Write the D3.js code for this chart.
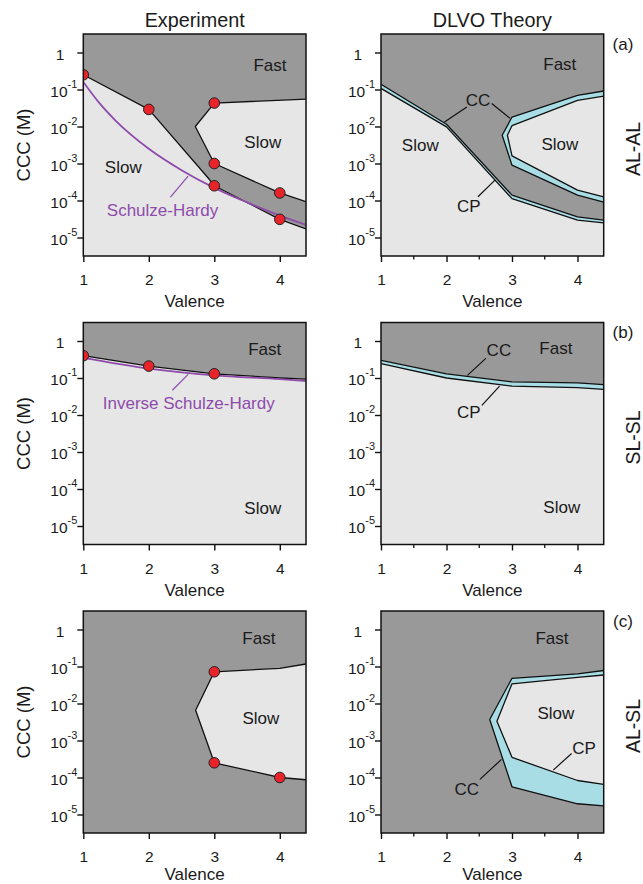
<!DOCTYPE html>
<html>
<head>
<meta charset="utf-8">
<script src="https://cdn.jsdelivr.net/npm/d3@7"></script>
<style>
  body { margin: 0; background: #fff; }
  text { font-family: "Liberation Sans", Arial, sans-serif; fill: #1a1a1a; }
</style>
</head>
<body>
<svg id="chart" width="643" height="884"></svg>
<script>
// ---- data (valence, CCC in M) ----
const valenceTicks = [1, 2, 3, 4];
const minorTicks = [1.5, 2.5, 3.5];
const cccTicks = [1, 1e-1, 1e-2, 1e-3, 1e-4, 1e-5];

// (a) AL-AL experiment
const expAPoints = [[1, 0.25], [2, 0.029], [3, 0.043], [3, 0.001], [3, 2.5e-4], [4, 1.6e-4], [4, 3.1e-5]];
const expALower = [[1, 0.25], [2, 0.029], [2.92, 3.8e-4], [3, 2.5e-4], [4, 3.1e-5], [4.4, 1.7e-5]];
const expARight = [[4.4, 0.055], [3, 0.043], [2.71, 0.01], [3, 0.001], [4, 1.6e-4], [4.4, 9.3e-5]];
const schulzeHardy = [[1, 0.16], [1.25, 0.042], [1.5, 0.014], [2, 0.0025], [2.5, 6.6e-4], [3, 2.2e-4], [3.5, 8.9e-5], [4, 3.9e-5], [4.4, 2.2e-5]];

// (a) AL-AL DLVO
const dlvoALeftCC = [[1, 0.138], [2, 0.0115], [3, 1.4e-4], [4, 3.6e-5], [4.4, 2.95e-5]];
const dlvoALeftCP = [[1, 0.107], [2, 0.0098], [3, 1.12e-4], [4, 2.95e-5], [4.4, 2.5e-5]];
const dlvoARightCC = [[4.4, 0.091], [4, 0.069], [3, 0.018], [2.85, 0.0058], [3, 9e-4], [4, 1.4e-4], [4.4, 9.1e-5]];
const dlvoARightCP = [[4.4, 0.066], [4, 0.051], [3, 0.0105], [2.93, 0.0058], [3, 0.0016], [4, 1.9e-4], [4.4, 1.26e-4]];

// (b) SL-SL experiment
const expBPoints = [[1, 0.4], [2, 0.21], [3, 0.13]];
const expBLine = [[1, 0.4], [2, 0.21], [3, 0.13], [4, 0.1], [4.4, 0.093]];
const inverseSH = [[1, 0.35], [2, 0.18], [3, 0.118], [4, 0.093], [4.4, 0.083]];

// (b) SL-SL DLVO
const dlvoBCC = [[1, 0.30], [2, 0.13], [3, 0.079], [4, 0.074], [4.4, 0.066]];
const dlvoBCP = [[1, 0.245], [2, 0.10], [3, 0.06], [4, 0.055], [4.4, 0.049]];

// (c) AL-SL experiment
const expCPoints = [[3, 0.072], [3, 2.5e-4], [4, 1.0e-4]];
const expCSlow = [[4.4, 0.117], [4, 0.089], [3, 0.072], [2.715, 0.0066], [3, 2.5e-4], [4, 1.0e-4], [4.4, 8.7e-5]];

// (c) AL-SL DLVO
const dlvoCCC = [[4.4, 0.078], [4, 0.063], [3, 0.048], [2.66, 0.0037], [3, 5.6e-5], [4, 1.95e-5], [4.4, 1.7e-5]];
const dlvoCCP = [[4.4, 0.059], [4, 0.051], [3, 0.034], [2.77, 0.0033], [3, 3.5e-4], [4, 8.3e-5], [4.4, 6.5e-5]];

// ---- layout ----
const xDomain = [1, 4.4];
const yDomain = [Math.pow(10, -5.5), Math.pow(10, 0.5)];
const colLeft = [83.3, 381];
const rowTop = [34, 322.5, 611];
const pw = 222.7, ph = 222;

const DARK = '#999999', LIGHT = '#e6e6e6', CYAN = '#a8dde5';
const RED = '#e8242b', PURPLE = '#8e4bab';

const svg = d3.select('#chart');
const defs = svg.append('defs');

function drawPanel(col, row, spec) {
    const left = colLeft[col], top = rowTop[row];
    const x = d3.scaleLinear().domain(xDomain).range([left, left + pw]);
    const y = d3.scaleLog().domain(yDomain).range([top + ph, top]);
    const line = d3.line().x(d => x(d[0])).y(d => y(d[1]));
    const smooth = d3.line().x(d => x(d[0])).y(d => y(d[1])).curve(d3.curveMonotoneX);

    const clipId = `clip-${col}-${row}`;
    defs.append('clipPath').attr('id', clipId)
        .append('rect').attr('x', left).attr('y', top).attr('width', pw).attr('height', ph);

    const plot = svg.append('g').attr('clip-path', `url(#${clipId})`);
    plot.append('rect').attr('x', left).attr('y', top).attr('width', pw).attr('height', ph).attr('fill', DARK);

    // filled regions
    spec.fills.forEach(f => {
        let pts = f.pts;
        if (f.toBottom) pts = pts.concat([[xDomain[1], yDomain[0]], [xDomain[0], yDomain[0]]]);
        plot.append('path').attr('d', line(pts) + 'Z').attr('fill', f.color);
    });

    // boundary lines
    spec.lines.forEach(pts => {
        plot.append('path').attr('d', line(pts))
            .attr('fill', 'none').attr('stroke', '#111').attr('stroke-width', 1.3)
            .attr('stroke-linejoin', 'round');
    });

    // purple guide curves
    (spec.curves || []).forEach(pts => {
        plot.append('path').attr('d', smooth(pts))
            .attr('fill', 'none').attr('stroke', PURPLE).attr('stroke-width', 1.8);
    });

    // leader lines
    (spec.leaders || []).forEach(l => {
        svg.append('line')
            .attr('x1', x(l.from[0])).attr('y1', y(l.from[1]))
            .attr('x2', x(l.to[0])).attr('y2', y(l.to[1]))
            .attr('stroke', l.color || '#111').attr('stroke-width', 1.2);
    });

    // experimental points
    plot.selectAll('circle.pt')
        .data(spec.points || [])
        .join('circle')
        .attr('cx', d => x(d[0])).attr('cy', d => y(d[1]))
        .attr('r', 5.3).attr('fill', RED).attr('stroke', '#222').attr('stroke-width', 1);

    // frame
    svg.append('rect').attr('x', left).attr('y', top).attr('width', pw).attr('height', ph)
        .attr('fill', 'none').attr('stroke', '#111').attr('stroke-width', 1.5);

    // x axis
    const xAxis = svg.append('g').attr('transform', `translate(0,${top + ph})`)
        .call(d3.axisBottom(x).tickValues(valenceTicks).tickSize(6).tickFormat(d3.format('d')));
    xAxis.select('.domain').remove();
    xAxis.selectAll('line').attr('stroke', '#111').attr('stroke-width', 1.4);
    xAxis.selectAll('text').attr('y', 29).attr('dy', null)
        .style('font-size', '15.5px').attr('fill', '#1a1a1a');
    if (spec.minor) {
        svg.append('g').selectAll('line').data(minorTicks).join('line')
            .attr('x1', d => x(d)).attr('x2', d => x(d))
            .attr('y1', top + ph).attr('y2', top + ph + 3.5)
            .attr('stroke', '#111').attr('stroke-width', 1.3);
    }
    svg.append('text').attr('x', left + pw / 2).attr('y', top + ph + (row === 2 ? 46.5 : 51))
        .attr('text-anchor', 'middle').style('font-size', '17px').text('Valence');

    // y axis
    const yAxis = svg.append('g').attr('transform', `translate(${left},0)`)
        .call(d3.axisLeft(y).tickValues(cccTicks).tickSize(6).tickFormat(''));
    yAxis.select('.domain').remove();
    yAxis.selectAll('line').attr('stroke', '#111').attr('stroke-width', 1.4);
    yAxis.selectAll('.tick').each(function (d) {
        const t = d3.select(this).select('text')
            .attr('dy', null).attr('y', 6.5).style('font-size', '15.5px').attr('fill', '#1a1a1a');
        const e = Math.round(Math.log10(d));
        if (e === 0) {
            t.attr('x', -19).text('1');
        } else {
            t.attr('x', -6).text('10');
            t.append('tspan').attr('dy', '-0.8em').style('font-size', '11px').text(e);
        }
    });
    if (col === 0) {
        svg.append('text')
            .attr('transform', `translate(${left - 60},${top + ph / 2}) rotate(-90)`)
            .attr('text-anchor', 'middle').attr('dy', '0.35em')
            .style('font-size', '18.5px').text('CCC (M)');
    }

    // region / curve labels
    (spec.labels || []).forEach(l => {
        svg.append('text').attr('x', x(l.at[0])).attr('y', y(l.at[1]))
            .attr('text-anchor', 'middle').attr('dy', '0.36em')
            .style('font-size', '17px').style('fill', l.color || '#1a1a1a').text(l.text);
    });
}

// ---- panels ----
drawPanel(0, 0, {
    fills: [{ pts: expALower, toBottom: true, color: LIGHT }, { pts: expARight, color: LIGHT }],
    lines: [expALower, expARight],
    curves: [schulzeHardy],
    points: expAPoints,
    leaders: [{ from: [2.33, Math.pow(10, -3.91)], to: [2.6, Math.pow(10, -3.34)], color: PURPLE }],
    labels: [
        { text: 'Fast', at: [3.85, Math.pow(10, -0.34)] },
        { text: 'Slow', at: [3.74, Math.pow(10, -2.42)] },
        { text: 'Slow', at: [1.61, Math.pow(10, -3.1)] },
        { text: 'Schulze-Hardy', at: [2.21, Math.pow(10, -4.24)], color: PURPLE }
    ]
});

drawPanel(1, 0, {
    minor: true,
    fills: [
        { pts: dlvoALeftCC, toBottom: true, color: CYAN },
        { pts: dlvoALeftCP, toBottom: true, color: LIGHT },
        { pts: dlvoARightCC, color: CYAN },
        { pts: dlvoARightCP, color: LIGHT }
    ],
    lines: [dlvoALeftCC, dlvoALeftCP, dlvoARightCC, dlvoARightCP],
    leaders: [
        { from: [2.31, Math.pow(10, -1.47)], to: [1.97, Math.pow(10, -1.88)] },
        { from: [2.69, Math.pow(10, -1.38)], to: [2.97, Math.pow(10, -1.78)] },
        { from: [2.48, Math.pow(10, -3.9)], to: [2.74, Math.pow(10, -3.45)] }
    ],
    labels: [
        { text: 'Fast', at: [3.73, Math.pow(10, -0.3)] },
        { text: 'Slow', at: [1.6, Math.pow(10, -2.5)] },
        { text: 'Slow', at: [3.73, Math.pow(10, -2.48)] },
        { text: 'CC', at: [2.48, Math.pow(10, -1.27)] },
        { text: 'CP', at: [2.34, Math.pow(10, -4.15)] }
    ]
});

drawPanel(0, 1, {
    fills: [{ pts: expBLine, toBottom: true, color: LIGHT }],
    lines: [expBLine],
    curves: [inverseSH],
    points: expBPoints,
    leaders: [{ from: [2.36, Math.pow(10, -1.33)], to: [2.6, Math.pow(10, -0.9)], color: PURPLE }],
    labels: [
        { text: 'Fast', at: [3.77, Math.pow(10, -0.2)] },
        { text: 'Slow', at: [3.74, Math.pow(10, -4.5)] },
        { text: 'Inverse Schulze-Hardy', at: [2.61, Math.pow(10, -1.66)], color: PURPLE }
    ]
});

drawPanel(1, 1, {
    minor: true,
    fills: [
        { pts: dlvoBCC, toBottom: true, color: CYAN },
        { pts: dlvoBCP, toBottom: true, color: LIGHT }
    ],
    lines: [dlvoBCC, dlvoBCP],
    leaders: [
        { from: [2.6, Math.pow(10, -0.47)], to: [2.32, Math.pow(10, -0.93)] },
        { from: [2.54, Math.pow(10, -1.74)], to: [2.81, Math.pow(10, -1.22)] }
    ],
    labels: [
        { text: 'Fast', at: [3.67, Math.pow(10, -0.18)] },
        { text: 'Slow', at: [3.76, Math.pow(10, -4.49)] },
        { text: 'CC', at: [2.8, Math.pow(10, -0.25)] },
        { text: 'CP', at: [2.34, Math.pow(10, -1.91)] }
    ]
});

drawPanel(0, 2, {
    fills: [{ pts: expCSlow, color: LIGHT }],
    lines: [expCSlow],
    points: expCPoints,
    labels: [
        { text: 'Fast', at: [3.68, Math.pow(10, -0.22)] },
        { text: 'Slow', at: [3.71, Math.pow(10, -2.38)] }
    ]
});

drawPanel(1, 2, {
    minor: true,
    fills: [{ pts: dlvoCCC, color: CYAN }, { pts: dlvoCCP, color: LIGHT }],
    lines: [dlvoCCC, dlvoCCP],
    leaders: [
        { from: [2.51, Math.pow(10, -4.05)], to: [2.84, Math.pow(10, -3.51)] },
        { from: [3.91, Math.pow(10, -3.35)], to: [3.63, Math.pow(10, -3.8)] }
    ],
    labels: [
        { text: 'Fast', at: [3.61, Math.pow(10, -0.22)] },
        { text: 'Slow', at: [3.67, Math.pow(10, -2.24)] },
        { text: 'CC', at: [2.31, Math.pow(10, -4.3)] },
        { text: 'CP', at: [4.1, Math.pow(10, -3.19)] }
    ]
});

// column titles
svg.append('text').attr('x', colLeft[0] + pw / 2).attr('y', 26.7)
    .attr('text-anchor', 'middle').style('font-size', '19.8px').text('Experiment');
svg.append('text').attr('x', colLeft[1] + pw / 2).attr('y', 26.7)
    .attr('text-anchor', 'middle').style('font-size', '19.8px').text('DLVO Theory');

// row tags and system names
const rowTags = ['(a)', '(b)', '(c)'];
const rowNames = ['AL-AL', 'SL-SL', 'AL-SL'];
rowTop.forEach((top, i) => {
    svg.append('text').attr('x', 623).attr('y', top + 9.5).attr('dy', '0.36em')
        .attr('text-anchor', 'middle').style('font-size', '17px').text(rowTags[i]);
    svg.append('text')
        .attr('transform', `translate(633,${top + 115}) rotate(-90)`)
        .attr('text-anchor', 'middle').attr('dy', '0.36em')
        .style('font-size', '19.4px').text(rowNames[i]);
});
</script>
</body>
</html>
